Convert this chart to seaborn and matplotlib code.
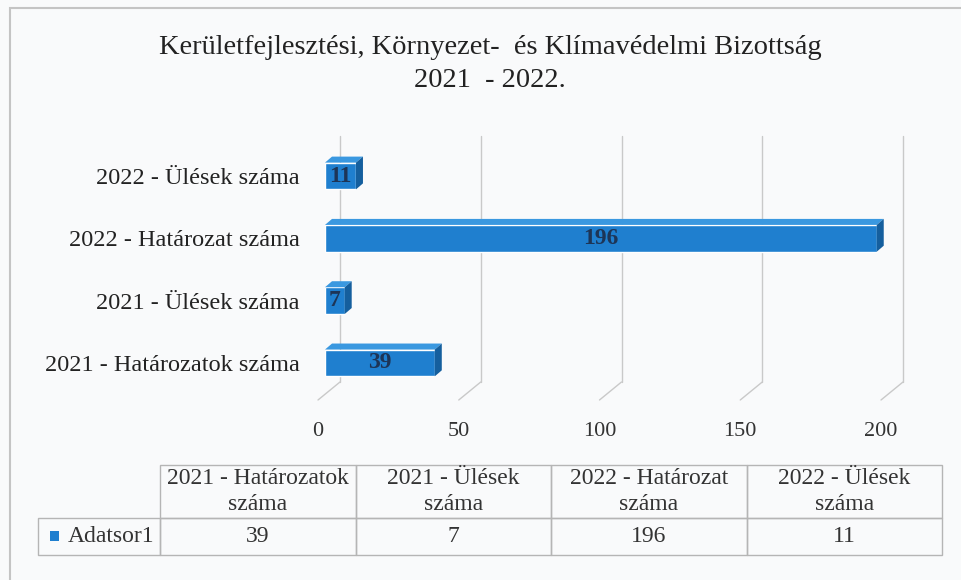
import numpy as np
import pandas as pd
import matplotlib.pyplot as plt
import matplotlib.patches as mpatches
import matplotlib.transforms as mtransforms
from matplotlib.table import Table
import seaborn as sns

# data
categories = ['2021 - Határozatok száma', '2021 - Ülések száma',
              '2022 - Határozat száma', '2022 - Ülések száma']
values = [39, 7, 196, 11]
table_headers = ['2021 - Határozatok\nszáma', '2021 - Ülések\nszáma',
                 '2022 - Határozat\nszáma', '2022 - Ülések\nszáma']
series_name = 'Adatsor1'
title_lines = ['Kerületfejlesztési, Környezet-  és Klímavédelmi Bizottság', '2021  - 2022.']
x_ticks = [0, 50, 100, 150, 200]

sns.set_style('white')
plt.rcParams['font.family'] = ['Liberation Serif', 'DejaVu Serif']

W, H = 962, 580
blue = '#1f7fcf'
grid_col = '#c9c9c9'
fig = plt.figure(figsize=(W / 100, H / 100), dpi=100, facecolor='#f9fafb')

# chart frame (only top and left edges are visible in the scan)
fig.patches.append(mpatches.Rectangle((10 / W, -0.02), 1.0, (H - 8) / H + 0.02,
                                      transform=fig.transFigure, fill=False,
                                      edgecolor='#c4c4c4', lw=1.5))

# title
fig.text(490 / W, (H - 47) / H, title_lines[0], ha='center', va='center', fontsize=20.5, color='#222')
fig.text(490 / W, (H - 80) / H, title_lines[1], ha='center', va='center', fontsize=20.5, color='#222')

# main bar chart
x0_px, x1_px, top_px, bot_px = 325, 888, 136, 400
ax = fig.add_axes([x0_px / W, (H - bot_px) / H, (x1_px - x0_px) / W, (bot_px - top_px) / H])
ax.set_facecolor('none')

df = pd.DataFrame({'cat': categories, 'val': values})
order = categories[::-1]
sns.barplot(data=df, y='cat', x='val', order=order, color=blue, saturation=1,
            width=0.43, ax=ax, zorder=3)
ax.set_xlim(0, 200)
ax.set_ylim(3.595, -0.642)

px_x = (x1_px - x0_px) / 200
px_y = 62.3
dxd, dyd = 7 / px_x, 6 / px_y

# 3d look: top and side faces
for bar in list(ax.patches):
    x, y, w, h = bar.get_x(), bar.get_y(), bar.get_width(), bar.get_height()
    top = mpatches.Polygon([(x, y), (x + w, y), (x + w + dxd, y - dyd), (x + dxd, y - dyd)],
                           closed=True, facecolor='#3a98e0', edgecolor='none', zorder=3)
    side = mpatches.Polygon([(x + w, y), (x + w, y + h), (x + w + dxd, y + h - dyd), (x + w + dxd, y - dyd)],
                            closed=True, facecolor='#155f9e', edgecolor='none', zorder=3)
    ax.add_patch(top)
    ax.add_patch(side)

# back-wall gridlines with slanted floor part
yb = (bot_px - 382) / (bot_px - top_px)
xtr = ax.get_xaxis_transform()
for t in x_ticks:
    ax.plot([t + 15 / px_x, t + 15 / px_x], [yb, 1.0], transform=xtr, color=grid_col, lw=1, zorder=0, clip_on=False)
    ax.plot([t + 15 / px_x, t - 7 / px_x], [yb, 0.0], transform=xtr, color=grid_col, lw=1, zorder=0, clip_on=False)

ax.bar_label(ax.containers[0], label_type='center', fontweight='bold', color='#1d3557', fontsize=17)

ax.set_xticks(x_ticks)
ax.set_xlabel('')
ax.set_ylabel('')
ax.tick_params(axis='x', length=0, pad=16, labelsize=16, labelcolor='#333')
ax.tick_params(axis='y', length=0, pad=18, labelsize=17.5, labelcolor='#222')
shift = mtransforms.ScaledTranslation(-7 / 100, 0, fig.dpi_scale_trans)
for lab in ax.get_xticklabels():
    lab.set_transform(lab.get_transform() + shift)
for s in ax.spines.values():
    s.set_visible(False)

# data table
tl, tr, tt, tb = 38, 942, 465, 555
tax = fig.add_axes([tl / W, (H - tb) / H, (tr - tl) / W, (tb - tt) / H])
tax.axis('off')
tw, th = tr - tl, tb - tt
grid_left = 160
tbl = Table(tax, bbox=[(grid_left - tl) / tw, 0, (tr - grid_left) / tw, 1])
col_w, lab_w = 195.5 / tw, 122 / tw
hdr_h, row_h = 53 / th, 37 / th
for j, hd in enumerate(table_headers):
    c = tbl.add_cell(0, j, width=col_w, height=hdr_h, text=hd, loc='center', facecolor='none')
    c.get_text().set_linespacing(1.25)
    tbl.add_cell(1, j, width=col_w, height=row_h, text=str(values[j]), loc='center', facecolor='none')
tbl.add_cell(1, -1, width=lab_w, height=row_h, text=series_name, loc='right', facecolor='none')
tbl.auto_set_font_size(False)
tbl.set_fontsize(17)
for cell in tbl.get_celld().values():
    cell.set_edgecolor('#b5b5b5')
    cell.set_linewidth(1)
    cell.get_text().set_color('#333')
    cell.PAD = 0.05
tax.add_table(tbl)
tax.add_patch(mpatches.Rectangle(((50 - tl) / tw, (tb - 541) / th), 9 / tw, 10 / th,
                                 transform=tax.transAxes, facecolor=blue, edgecolor='none'))

fig.savefig('out.png', dpi=100, facecolor=fig.get_facecolor())
